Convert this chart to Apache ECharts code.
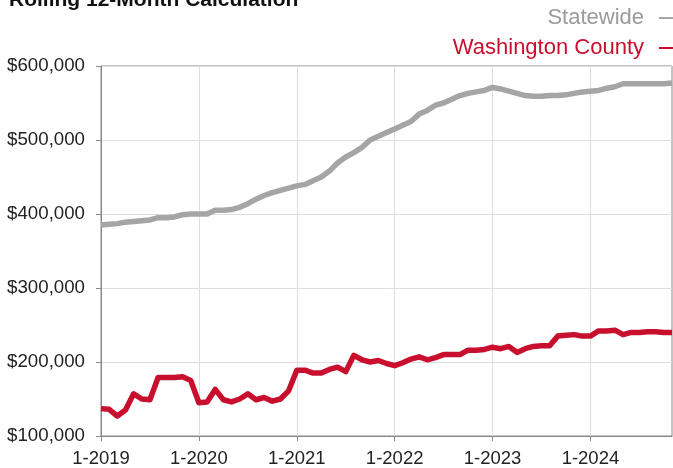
<!DOCTYPE html>
<html>
<head>
<meta charset="utf-8">
<script src="https://cdn.jsdelivr.net/npm/echarts@6/dist/echarts.min.js"></script>
<style>
  html, body { margin: 0; padding: 0; background: #fff; }
  #chart { width: 673px; height: 468px; }
</style>
</head>
<body>
<div id="chart"></div>
<script>
// months Jan 2019 .. Nov 2024
const months = []
for (let y = 2019; y <= 2024; y++) {
  for (let m = 1; m <= 12; m++) {
    if (y === 2024 && m === 12) break
    months.push(m + '-' + y)
  }
}

const statewide = [
  385, 386, 387, 389, 390, 391, 392, 395, 395, 396, 399, 400,
  400, 400, 405, 405, 406, 409, 414, 420, 425, 429, 432, 435,
  438, 440, 445, 450, 458, 469, 477, 483, 490, 500, 505, 510,
  515, 520, 525, 535, 540, 547, 550, 555, 560, 563, 565, 567,
  571, 569, 566, 563, 560, 559, 559, 560, 560, 561, 563, 565,
  566, 567, 570, 572, 576, 576, 576, 576, 576, 576, 577
].map(v => v * 1000)

const washington = [
  137, 136, 127, 135, 157, 150, 149, 179, 179, 179, 180, 175,
  145, 146, 163, 149, 146, 150, 157, 149, 152, 147, 150, 161,
  189, 189, 185, 185, 190, 193, 187, 209, 203, 200, 202, 198,
  195, 199, 204, 207, 203, 206, 210, 210, 210, 216, 216, 217,
  220, 218, 221, 213, 218, 221, 222, 222, 235, 236, 237, 235,
  235, 242, 242, 243, 237, 240, 240, 241, 241, 240, 240
].map(v => v * 1000)

const yTicks = [100000, 600000, 100000] // min, max, step

const chart = echarts.init(document.getElementById('chart'))
chart.setOption({
  animation: false,
  title: {
    text: 'Rolling 12-Month Calculation',
    left: 4,
    top: -15,
    textStyle: { fontFamily: 'Liberation Sans', fontSize: 21, fontWeight: 'bold', color: '#111' }
  },
  legend: {
    orient: 'vertical',
    right: -11,
    top: 2,
    align: 'right',
    itemGap: 8,
    itemWidth: 20,
    itemHeight: 2,
    icon: 'rect',
    textStyle: { fontFamily: 'Liberation Sans', fontSize: 22, padding: [0, 10, 0, 0] },
    data: [
      { name: 'Statewide', textStyle: { color: '#9a9a9a' } },
      { name: 'Washington County', textStyle: { color: '#c8102e' } }
    ]
  },
  grid: {
    left: 101,
    right: 1,
    top: 66,
    bottom: 32,
    show: true,
    borderColor: '#888',
    borderWidth: 1
  },
  xAxis: {
    type: 'category',
    boundaryGap: false,
    data: months,
    axisLine: { lineStyle: { color: '#888' } },
    axisTick: { interval: 11, length: 5, lineStyle: { color: '#888' } },
    axisLabel: {
      interval: 11,
      margin: 13,
      fontFamily: 'Liberation Sans',
      fontSize: 18.5,
      color: '#222'
    },
    splitLine: { show: true, interval: 11, lineStyle: { color: '#dedede' } }
  },
  yAxis: {
    type: 'value',
    min: yTicks[0],
    max: yTicks[1],
    interval: yTicks[2],
    axisLine: { show: true, lineStyle: { color: '#888' } },
    axisTick: { show: true, length: 5, lineStyle: { color: '#888' } },
    axisLabel: {
      margin: 16,
      fontFamily: 'Liberation Sans',
      fontSize: 18.7,
      color: '#222',
      formatter: v => '$' + v.toLocaleString('en-US')
    },
    splitLine: { lineStyle: { color: '#dedede' } }
  },
  series: [
    {
      name: 'Statewide',
      type: 'line',
      data: statewide,
      showSymbol: false,
      color: '#a5a5a5',
      lineStyle: { width: 5.5, color: '#a5a5a5', join: 'round' }
    },
    {
      name: 'Washington County',
      type: 'line',
      data: washington,
      showSymbol: false,
      color: '#c8102e',
      lineStyle: { width: 5.5, color: '#c8102e', join: 'round' }
    }
  ]
})
</script>
</body>
</html>
